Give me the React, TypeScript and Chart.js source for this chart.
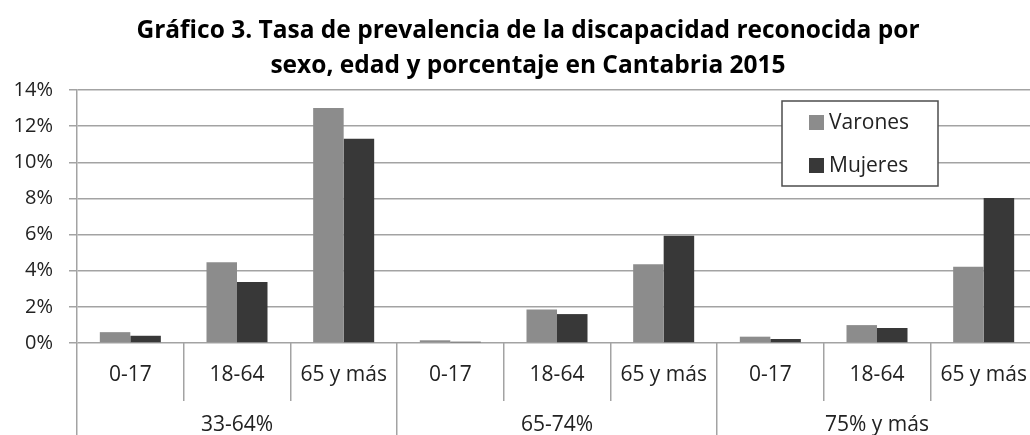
import React, { useEffect, useRef } from "react";
import { Chart, registerables } from "chart.js";

Chart.register(...registerables);

const TITLE_LINES = [
  "Gráfico 3. Tasa de prevalencia de la discapacidad reconocida por",
  "sexo, edad y porcentaje en Cantabria 2015",
];
const AGE_LABELS = ["0-17", "18-64", "65 y más", "0-17", "18-64", "65 y más", "0-17", "18-64", "65 y más"];
const GROUP_LABELS = ["33-64%", "65-74%", "75% y más"];
const VARONES = [0.6, 4.47, 13.0, 0.15, 1.86, 4.36, 0.35, 0.99, 4.22];
const MUJERES = [0.4, 3.37, 11.3, 0.07, 1.6, 5.93, 0.22, 0.83, 8.03];
const Y_MAX = 14;
const Y_STEP = 2;

const FONT = "'Open Sans', 'Noto Sans', sans-serif";
const GRID = "#a3a3a3";
const TEXT = "#222222";

const titlePlugin = {
  id: "customTitle",
  afterDraw(chart: any) {
    const ctx = chart.ctx;
    ctx.save();
    ctx.fillStyle = "#000000";
    ctx.font = `bold 24.5px ${FONT}`;
    ctx.textAlign = "center";
    ctx.textBaseline = "alphabetic";
    const cx = 528;
    ctx.fillText(TITLE_LINES[0], cx, 37.5);
    ctx.fillText(TITLE_LINES[1], cx, 72.5);
    ctx.restore();
  },
};

const legendPlugin = {
  id: "boxLegend",
  afterDraw(chart: any) {
    const ctx = chart.ctx;
    const x = 782, y = 101, w = 156, h = 85;
    ctx.save();
    ctx.fillStyle = "#ffffff";
    ctx.fillRect(x, y, w, h);
    ctx.strokeStyle = "#4d4d4d";
    ctx.lineWidth = 1.5;
    ctx.strokeRect(x, y, w, h);
    ctx.font = `21px ${FONT}`;
    ctx.textAlign = "left";
    ctx.textBaseline = "middle";
    const rows = [122, 165];
    chart.data.datasets.forEach((ds: any, i: number) => {
      const cy = rows[i];
      ctx.fillStyle = ds.backgroundColor;
      ctx.fillRect(809, cy - 7, 15, 15);
      ctx.fillStyle = TEXT;
      ctx.fillText(ds.label, 829, cy + 1);
    });
    ctx.restore();
  },
};

export default function App() {
  const ref = useRef<HTMLCanvasElement | null>(null);

  useEffect(() => {
    if (!ref.current) return;
    const chart = new Chart(ref.current, {
      type: "bar",
      data: {
        labels: AGE_LABELS,
        datasets: [
          { label: "Varones", data: VARONES, backgroundColor: "#8c8c8c", borderWidth: 0 },
          { label: "Mujeres", data: MUJERES, backgroundColor: "#383838", borderWidth: 0 },
        ],
      },
      options: {
        responsive: false,
        animation: false,
        devicePixelRatio: 1,
        layout: { padding: { top: 90, right: 3, bottom: 0, left: 0 } },
        datasets: { bar: { categoryPercentage: 0.572, barPercentage: 1 } },
        plugins: {
          legend: { display: false },
          title: { display: false },
          tooltip: { enabled: false },
        },
        scales: {
          x: {
            type: "category",
            position: "bottom",
            weight: 1,
            offset: true,
            grid: {
              display: true,
              offset: true,
              drawOnChartArea: false,
              drawTicks: true,
              tickLength: 58,
              color: GRID,
              lineWidth: 1.5,
            },
            border: { display: false },
            ticks: {
              autoSkip: false,
              maxRotation: 0,
              minRotation: 0,
              padding: -39,
              color: TEXT,
              font: { family: FONT, size: 21 },
            },
            afterFit(scale: any) {
              scale.height = 58;
            },
          },
          x2: {
            type: "category",
            position: "bottom",
            weight: 2,
            labels: GROUP_LABELS,
            offset: true,
            grid: {
              display: true,
              offset: true,
              drawOnChartArea: false,
              drawTicks: true,
              tickLength: 35,
              color: GRID,
              lineWidth: 1.5,
            },
            border: { display: false },
            ticks: {
              autoSkip: false,
              maxRotation: 0,
              minRotation: 0,
              padding: -24,
              color: TEXT,
              font: { family: FONT, size: 21 },
            },
            afterFit(scale: any) {
              scale.height = 35;
            },
          },
          y: {
            min: 0,
            max: Y_MAX,
            ticks: {
              stepSize: Y_STEP,
              padding: 16,
              color: TEXT,
              font: { family: FONT, size: 20 },
              callback: (v: any) => `${v}%`,
            },
            grid: { color: GRID, lineWidth: 1.5, tickLength: 8, drawTicks: true },
            border: { display: true, color: GRID, width: 1.5 },
            afterFit(scale: any) {
              scale.width = 77;
            },
          },
        },
      },
      plugins: [titlePlugin, legendPlugin],
    });
    const fonts = (document as any).fonts;
    if (fonts && fonts.load) {
      Promise.all([fonts.load(`21px 'Open Sans'`), fonts.load(`bold 24px 'Open Sans'`)])
        .then(() => chart.update())
        .catch(() => {});
    }
    return () => chart.destroy();
  }, []);

  return (
    <div
      style={{
        position: "fixed",
        left: 0,
        top: 0,
        width: 1030,
        height: 435,
        overflow: "hidden",
        background: "#ffffff",
      }}
    >
      <canvas ref={ref} width={1040} height={436} style={{ display: "block" }} />
    </div>
  );
}
